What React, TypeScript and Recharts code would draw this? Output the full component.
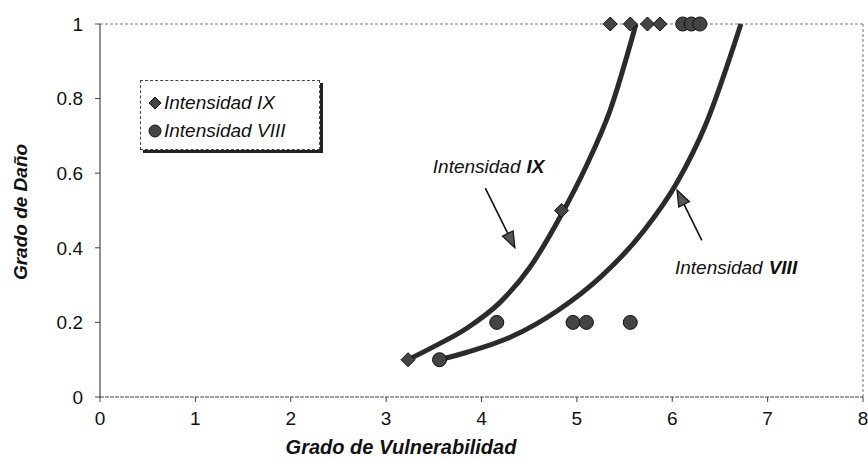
import { ComposedChart, Line, Scatter, XAxis, YAxis, ReferenceLine, ReferenceDot, Label } from "recharts"

const xTicks = [0, 1, 2, 3, 4, 5, 6, 7, 8]
const yTicks = [0, 0.2, 0.4, 0.6, 0.8, 1]
const seriesNames = ["Intensidad IX", "Intensidad VIII"]

// observed points
const ixPoints = [
  { x: 3.23, y: 0.1 },
  { x: 4.84, y: 0.5 },
  { x: 5.35, y: 1 },
  { x: 5.56, y: 1 },
  { x: 5.74, y: 1 },
  { x: 5.87, y: 1 },
]
const viiiPoints = [
  { x: 3.56, y: 0.1 },
  { x: 4.16, y: 0.2 },
  { x: 4.96, y: 0.2 },
  { x: 5.1, y: 0.2 },
  { x: 5.56, y: 0.2 },
  { x: 6.11, y: 1 },
  { x: 6.2, y: 1 },
  { x: 6.29, y: 1 },
]

// fitted curves
const ixCurve = [
  { x: 3.23, y: 0.1 },
  { x: 3.5, y: 0.135 },
  { x: 3.85, y: 0.185 },
  { x: 4.2, y: 0.255 },
  { x: 4.5, y: 0.345 },
  { x: 4.84, y: 0.49 },
  { x: 5.1, y: 0.62 },
  { x: 5.35, y: 0.77 },
  { x: 5.62, y: 1 },
]
const viiiCurve = [
  { x: 3.56, y: 0.1 },
  { x: 3.85, y: 0.12 },
  { x: 4.3, y: 0.16 },
  { x: 4.8, y: 0.232 },
  { x: 5.25, y: 0.322 },
  { x: 5.7, y: 0.445 },
  { x: 6.05, y: 0.575 },
  { x: 6.35, y: 0.73 },
  { x: 6.72, y: 1 },
]

const ink = "#2b2b2b"
const font = "'Liberation Sans', Arial, sans-serif"

const Diamond = (p: any) => {
  const { cx, cy } = p
  const r = 7
  return <polygon points={`${cx},${cy - r} ${cx + r},${cy} ${cx},${cy + r} ${cx - r},${cy}`} fill="#444" stroke="#111" strokeWidth={1} />
}

const Dot = (p: any) => <circle cx={p.cx} cy={p.cy} r={7} fill="#444" stroke="#111" strokeWidth={1} />

const Arrow = (p: any) => {
  const { x1, y1, x2, y2 } = p
  const a = Math.atan2(y2 - y1, x2 - x1)
  const len = 16
  const w = 6
  const bx = x2 - len * Math.cos(a)
  const by = y2 - len * Math.sin(a)
  const px = -Math.sin(a) * w
  const py = Math.cos(a) * w
  return (
    <g>
      <line x1={x1} y1={y1} x2={bx} y2={by} stroke="#111" strokeWidth={1.6} />
      <polygon points={`${x2},${y2} ${bx + px},${by + py} ${bx - px},${by - py}`} fill="#555" stroke="#111" strokeWidth={1.2} />
    </g>
  )
}

const noteText = (main: string, bold: string) => (p: any) => (
  <text x={p.cx} y={p.cy} textAnchor="end" fontFamily={font} fontSize={19} fontStyle="italic" fill="#111">
    {main}
    <tspan fontWeight="bold" dx={6}>{bold}</tspan>
  </text>
)

export default function App() {
  return (
    <div style={{ position: "absolute", left: 0, top: 0, width: 868, height: 462, background: "#fff", fontFamily: font }}>
      <ComposedChart width={868} height={462} margin={{ top: 24, right: 5, left: 0, bottom: 0 }}>
        <XAxis
          type="number"
          dataKey="x"
          domain={[0, 8]}
          ticks={xTicks}
          interval={0}
          height={65}
          tickSize={5}
          tickMargin={10}
          tick={{ fontSize: 19, fill: "#111", fontFamily: font }}
          axisLine={{ stroke: "#444", strokeDasharray: "4 1" }}
          tickLine={{ stroke: "#444" }}
        >
          <Label
            content={() => (
              <text x={401} y={454} textAnchor="middle" fontFamily={font} fontSize={20} fontWeight="bold" fontStyle="italic" fill="#111">
                Grado de Vulnerabilidad
              </text>
            )}
          />
        </XAxis>
        <YAxis
          type="number"
          dataKey="y"
          domain={[0, 1]}
          ticks={yTicks}
          interval={0}
          width={100}
          tickSize={5}
          tickMargin={12}
          tick={{ fontSize: 19, fill: "#111", fontFamily: font }}
          axisLine={{ stroke: "#222" }}
          tickLine={{ stroke: "#444" }}
        >
          <Label
            content={() => (
              <text
                transform="translate(27,212) rotate(-90)"
                textAnchor="middle"
                fontFamily={font}
                fontSize={19}
                fontWeight="bold"
                fontStyle="italic"
                fill="#111"
              >
                Grado de Daño
              </text>
            )}
          />
        </YAxis>
        <ReferenceLine y={1} stroke="#777" strokeDasharray="3 2" />
        <ReferenceLine x={8} stroke="#777" strokeDasharray="3 2" />

        <Line data={ixCurve} dataKey="y" type="monotone" stroke={ink} strokeWidth={5} dot={false} isAnimationActive={false} />
        <Line data={viiiCurve} dataKey="y" type="monotone" stroke={ink} strokeWidth={5} dot={false} isAnimationActive={false} />
        <Scatter data={ixPoints} dataKey="y" shape={Diamond} isAnimationActive={false} />
        <Scatter data={viiiPoints} dataKey="y" shape={Dot} isAnimationActive={false} />

        <ReferenceLine segment={[{ x: 4.04, y: 0.56 }, { x: 4.35, y: 0.4 }]} shape={Arrow} />
        <ReferenceLine segment={[{ x: 6.31, y: 0.42 }, { x: 6.05, y: 0.555 }]} shape={Arrow} />
        <ReferenceDot x={4.66} y={0.6} r={0} shape={noteText("Intensidad", "IX")} />
        <ReferenceDot x={7.31} y={0.33} r={0} shape={noteText("Intensidad", "VIII")} />
      </ComposedChart>

      <div
        style={{
          position: "absolute",
          left: 140,
          top: 80,
          width: 178,
          height: 68,
          border: "1px dashed #444",
          boxShadow: "3px 3px 0 #222",
          background: "#fff",
          fontSize: 19,
          fontStyle: "italic",
          color: "#111",
        }}
      >
        {seriesNames.map((name, i) => (
          <div key={name} style={{ position: "absolute", left: 7, top: 11 + i * 28, height: 22, lineHeight: "22px", display: "flex", alignItems: "center", whiteSpace: "nowrap" }}>
            <svg width={14} height={14} style={{ marginRight: 2 }}>
              {i === 0 ? (
                <polygon points="7,1 13,7 7,13 1,7" fill="#444" stroke="#111" />
              ) : (
                <circle cx={7} cy={7} r={6} fill="#444" stroke="#111" />
              )}
            </svg>
            {name}
          </div>
        ))}
      </div>
    </div>
  )
}
